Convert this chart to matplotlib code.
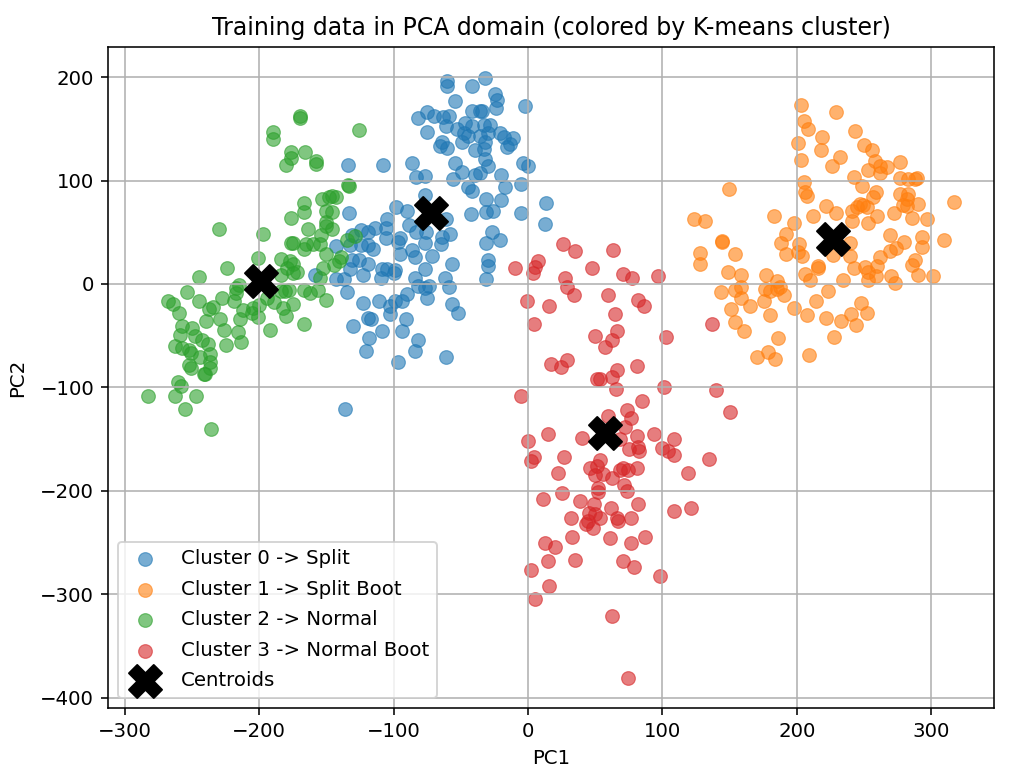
import matplotlib.pyplot as plt

# PCA scores per K-means cluster, given as (PC1, PC2) pairs
cluster0_points = [
    (-60.5, 196.5), (-60.5, 191), (-32, 199), (-41.7, 191), (-54, 176.7), (-24.6, 184), (-23.3, 178),
    (-24, 170), (-2, 172), (-42, 167), (-36, 167), (-34, 167), (-81.6, 160), (-75, 166), (-70, 162),
    (-63.5, 161), (-59, 162), (-75.4, 147), (-61, 153), (-53, 150), (-47, 156), (-48, 146), (-42, 153),
    (-33, 154), (-28, 154), (-44.4, 143), (-36, 143), (-29.5, 146), (-21, 146), (-18, 142), (-11, 141),
    (-13.4, 135), (-16, 132.5), (-64, 137), (-65.5, 133), (-60.5, 131), (-49, 137), (-39.5, 129),
    (-33, 130), (-32, 137), (-32, 121), (-29.5, 114), (-36, 107), (-39.5, 105), (-54, 116.6), (-49, 108),
    (-55.6, 101.6), (-3.5, 116.6), (-0.2, 113.7), (-20, 105), (-17, 94), (-5.5, 97), (-44.4, 94),
    (-41.4, 90), (-86, 116.6), (-107.7, 115), (-134, 115), (-83, 103), (-76.7, 104), (-76.7, 85.6),
    (-31, 82), (-20, 81.5), (-31, 69.6), (-26, 71), (-42.7, 67.4), (-5.5, 68.7), (13.4, 78), (12.7, 57.8),
    (-98, 74.4), (-90, 71), (-133, 68.7), (-105, 63), (-105.7, 53.7), (-105.7, 44), (-114, 53.7),
    (-124, 52), (-119, 50.5), (-119, 37.7), (-115, 33.5), (-131, 47), (-132.5, 37.7), (-124, 37.7),
    (-143, 36.7), (-88.6, 57), (-83, 50.5), (-76, 50.5), (-95, 44), (-96.5, 41), (-61, 63), (-58, 48),
    (-64, 45.7), (-65, 38.7), (-76.7, 40), (-26.5, 50.5), (-21, 42.5), (-31, 40), (-95, 29), (-86.6, 33),
    (-84, 26.5), (-71.5, 27.5), (-56.6, 19), (-29.5, 23), (-29.5, 17), (-31, 5), (-76.7, 14.7), (-131, 23),
    (-126, 23), (-119, 19.5), (-132.5, 14.4), (-122.6, 9), (-109, 14.4), (-104.7, 14.4), (-99, 13.7),
    (-109.7, 5.7), (-99.5, 10.5), (-158.6, 9), (-143, 5), (-137, 5), (-84, 5.7), (-82, -1.6), (-76.7, -4),
    (-73.4, -1.6), (-61.8, 5.7), (-58.8, -3), (-135, -8), (-90.3, -9.3), (-94, -16.6), (-75, -14),
    (-122.6, -18), (-110.7, -16.6), (-102.7, -21.4), (-99, -16.6), (-102.7, -29.4), (-56.6, -19),
    (-52, -27.8), (-118.9, -32.6), (-117, -34), (-130, -41), (-108.4, -45), (-90.8, -34), (-94, -45),
    (-118.4, -52.4), (-82, -53.7), (-120.6, -65), (-84, -65), (-97, -75.7), (-60.8, -70.3), (-136.5, -121),
]
cluster1_points = [
    (203, 173), (229.5, 166), (205, 157.5), (208.4, 149.5), (243.4, 148), (219, 142.5), (201, 136),
    (218, 129), (203, 120), (232, 123), (226, 113.7), (250, 134.5), (256, 129), (258, 119), (262, 114),
    (267, 113), (262, 107), (253, 110.5), (276.7, 117.6), (277, 102.5), (283, 101), (289.6, 102.5),
    (288, 101), (242.4, 103), (248.6, 94.6), (205, 99), (206, 89), (207.7, 85), (149.6, 91.7), (259, 89),
    (257, 84), (276.7, 87), (283, 87), (281.6, 82.4), (279, 76), (281.6, 75.4), (290, 77), (317, 79.5),
    (247, 77.6), (249.4, 76), (252, 74.4), (244.4, 74.4), (222, 75.4), (228.8, 69), (241.4, 71),
    (241.4, 60.7), (253, 59.4), (259.8, 65.8), (272, 68.7), (286, 64), (296.5, 63), (212.4, 65.8),
    (183, 65.8), (197.8, 59.4), (123.3, 63), (132, 60.7), (191.6, 48), (188, 40), (201.7, 39), (144.4, 41.9),
    (144.4, 41), (239.5, 40), (269, 47.6), (280, 41), (293.5, 45.7), (292.8, 35.5), (309.4, 42.5),
    (274, 34.5), (269, 32), (261.8, 26), (127.8, 30), (127.8, 19), (154, 28.8), (192.3, 28.8), (201, 31),
    (204, 27), (227, 28), (239.5, 27), (215.9, 17), (215.4, 15), (287.8, 23), (285.9, 18.5), (242.4, 15),
    (250.6, 16), (253, 12), (259.3, 17), (258.8, 8), (148.9, 12), (158.3, 9), (177.4, 9), (184.9, 2.5),
    (206, 9.6), (209.7, 4), (234, 4), (253, 4), (270, 8), (273.4, 1), (290.3, 9), (301, 8), (143.4, -8),
    (153.8, -5.4), (158.8, -3), (158.3, -14), (176, -4.5), (180, -7), (184.9, -4.5), (187.3, -3),
    (175.7, -16.6), (190.3, -11), (165, -20.8), (150.9, -24.6), (197.8, -23.3), (180.4, -30), (223.3, -7),
    (214.6, -16.6), (207.2, -30), (222, -33), (232.8, -35.8), (240, -28.8), (247.6, -18), (252.4, -27.8),
    (243.7, -39.6), (153.8, -36.7), (160.5, -45), (186, -52.4), (227.5, -50.8), (178.7, -65.5),
    (170.7, -70.3), (183.9, -72.8), (209.4, -68.7),
]
cluster2_points = [
    (-169.5, 162), (-169.5, 160), (-190, 147), (-190, 140), (-176.4, 128), (-176, 122), (-180, 115),
    (-166, 128), (-158, 119), (-158, 116), (-126, 149), (-134, 96), (-133.5, 95), (-146, 85), (-153, 82),
    (-143, 84), (-148, 84), (-167, 78), (-167, 70), (-150, 71), (-146, 70), (-176, 64), (-150, 60),
    (-146, 53), (-150, 56), (-164, 53), (-230, 53), (-197, 48), (-154, 47), (-176, 40), (-175, 40),
    (-165, 39), (-160, 39), (-155, 39), (-166.5, 34), (-150, 29), (-201, 25), (-184, 24), (-177, 22),
    (-174.5, 19), (-172, 12), (-179, 15.5), (-174.5, 11), (-183.5, 9), (-152.6, 15.5), (-154.6, 6),
    (-223.6, 15), (-244.7, 7), (-215, -1), (-217, -4), (-217, -9), (-218.6, -16), (-254, -8), (-228, -14),
    (-245, -16), (-268, -16), (-264, -19), (-259.5, -28), (-237, -24), (-234.5, -22), (-239.5, -36),
    (-229.5, -33.5), (-226.5, -44), (-214, -33.5), (-211.7, -25), (-204.7, -23), (-200.5, -20),
    (-205.5, -28), (-201, -32), (-189, -17), (-194, -13.5), (-180.6, -7), (-178, -6), (-184, -7),
    (-167, -5.5), (-162, -9), (-156, -5.5), (-150, -15), (-175, -19), (-182, -23), (-180, -31), (-167, -39),
    (-191.6, -44.5), (-216, -46.5), (-213.6, -56), (-224.6, -59), (-257.5, -41), (-259, -49), (-250, -42.6),
    (-247.6, -50.6), (-242.7, -54), (-238, -58), (-263, -60), (-257.5, -62), (-252.6, -63.5), (-251, -67),
    (-236.5, -68), (-236.5, -75), (-244, -70.6), (-236.5, -81), (-252, -78), (-250.6, -81), (-241.4, -87),
    (-240, -87), (-260.5, -95), (-258, -99), (-283, -108), (-263, -108), (-247, -108), (-255, -120.6),
    (-236, -140), (-135, 42.5), (-129, 46), (-139, 26.5), (-141, 22), (-144, 18.5),
]
cluster3_points = [
    (26.3, 38.8), (35, 31.7), (63, 33), (-9.7, 15), (7.7, 22), (5.2, 16.5), (4, 10.7), (47.9, 15.2),
    (71, 9.7), (77.7, 5.5), (97, 8), (27.5, 5.5), (28.8, -3), (34.2, -11), (59.6, -11), (-1, -16.8),
    (15.9, -21), (4.2, -39), (81.6, -15), (86.4, -21), (64.8, -29.4), (137, -39), (66, -45.6), (62.8, -54),
    (57.6, -61), (49.9, -50.5), (103, -51.5), (16.9, -77.7), (24.6, -80.6), (28.8, -73.5), (80.9, -79),
    (66, -83), (62.8, -90), (51.6, -91.6), (53.6, -92), (65.8, -101.6), (101, -100), (139.5, -102.6),
    (150, -123.6), (-5.5, -108), (85, -112.6), (73.4, -122), (76.9, -129.4), (72, -138), (59.3, -127.8),
    (68.5, -149.5), (14.9, -144.7), (0, -151.5), (40.4, -148.5), (80.9, -147), (93.5, -144.7), (108.7, -150),
    (75.4, -159), (82, -157.6), (82.9, -161.5), (100, -158), (104.5, -161.5), (108.7, -165.7), (135, -169),
    (4.2, -166.7), (2.2, -171), (26.6, -167), (119.4, -183), (108.7, -219.4), (121.3, -216.8), (22.3, -183),
    (53.6, -170.5), (51, -175.4), (46, -178), (49.9, -184.5), (56, -183.5), (62.8, -187.7), (68.5, -180),
    (70.5, -178), (74.7, -180), (80.9, -178), (71.5, -193.9), (73.4, -199.7), (51.9, -197.4), (51.9, -201),
    (11.4, -208), (25.6, -202), (39, -209.4), (48.9, -212.6), (61.8, -216.8), (81.9, -212.6), (45.7, -221.4),
    (49.9, -222), (53.6, -226.5), (44.9, -228.8), (43, -232), (48, -236), (31.8, -226.2), (66, -226.5),
    (66.7, -228.8), (76.7, -226.2), (32.8, -244), (60.8, -245.6), (76.7, -250), (87.3, -244), (12.7, -249.8),
    (20, -254), (15, -268), (35.2, -266.7), (71, -268), (78.7, -273.5), (2, -276.4), (15.9, -291.6),
    (5.2, -304), (98, -281.9), (62.8, -321), (74.4, -380.6),
]

centroid_x = [-72, 227, -198.7, 57.3]
centroid_y = [68.6, 43.5, 3, -144]

cluster_points = [cluster0_points, cluster1_points, cluster2_points, cluster3_points]
cluster_labels = [
    "Cluster 0 -> Split",
    "Cluster 1 -> Split Boot",
    "Cluster 2 -> Normal",
    "Cluster 3 -> Normal Boot",
]

DPI = 142
fig = plt.figure(figsize=(1035 / DPI, 775 / DPI), dpi=DPI)
ax = fig.add_axes([108 / 1035, 1 - 708 / 775, 886 / 1035, 661 / 775])

for points, label in zip(cluster_points, cluster_labels):
    xs = [p[0] for p in points]
    ys = [p[1] for p in points]
    ax.scatter(xs, ys, s=48, alpha=0.6, linewidths=0.6, label=label)

ax.scatter(centroid_x, centroid_y, s=280, c="black", marker="X", label="Centroids", zorder=5)

ax.set_xlim(-312.5, 346.7)
ax.set_ylim(-409.7, 229)
ax.set_xlabel("PC1")
ax.set_ylabel("PC2", labelpad=6.5)
ax.set_title("Training data in PCA domain (colored by K-means cluster)")
ax.grid(True)
ax.legend(loc="lower left", labelspacing=0.58)

fig.savefig("out.png", dpi=DPI)
